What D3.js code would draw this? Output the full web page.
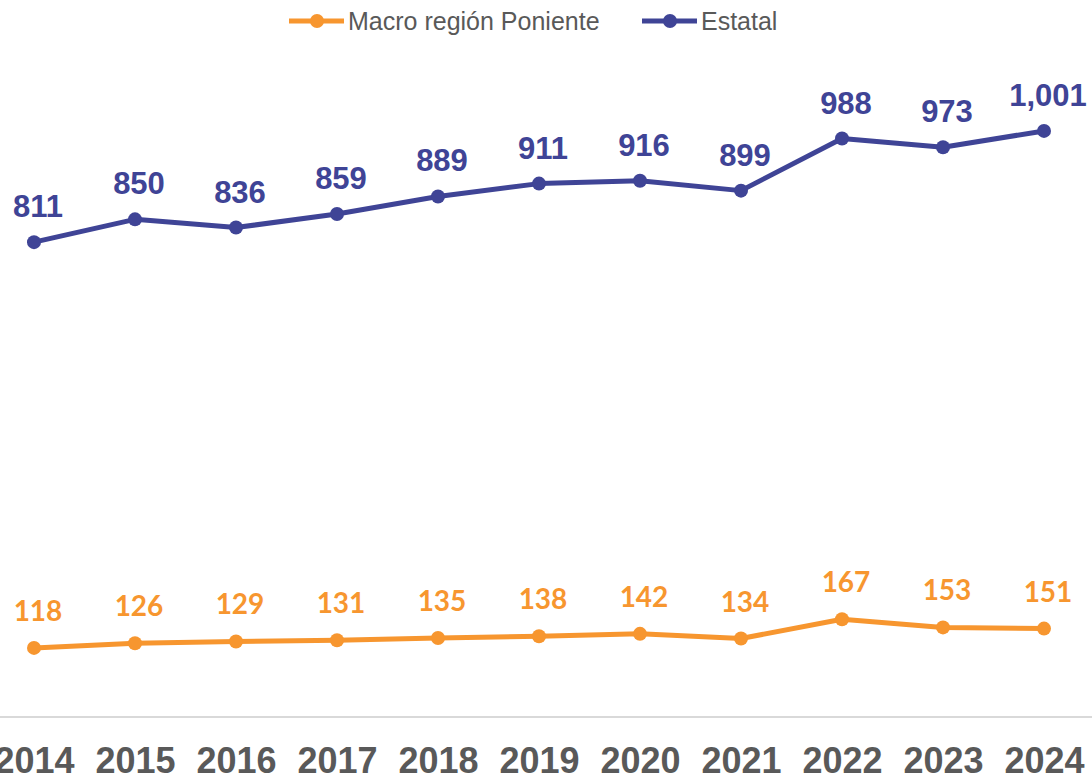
<!DOCTYPE html>
<html>
<head>
<meta charset="utf-8">
<script src="https://cdn.jsdelivr.net/npm/d3@7"></script>
<style>
  body { margin: 0; background: #fff; }
  #chart { width: 1092px; height: 777px; }
</style>
</head>
<body>
<div id="chart"></div>
<script>
const years = ["2014", "2015", "2016", "2017", "2018", "2019", "2020", "2021", "2022", "2023", "2024"];
const poniente = [118, 126, 129, 131, 135, 138, 142, 134, 167, 153, 151];
const estatal = [811, 850, 836, 859, 889, 911, 916, 899, 988, 973, 1001];
const seriesNames = ["Macro región Poniente", "Estatal"];
const seriesColors = ["#F7962F", "#3F4496"];

const width = 1092, height = 777;

const svg = d3.select("#chart")
    .append("svg")
    .attr("width", width)
    .attr("height", height);

// scales
const x = d3.scalePoint().domain(years).range([34, 1044]);
const y = d3.scaleLinear().domain([0, 1200]).range([717, 14.4]);

// baseline axis (no ticks)
svg.append("line")
    .attr("x1", 0).attr("x2", width)
    .attr("y1", y(0)).attr("y2", y(0))
    .attr("stroke", "#d9d9d9")
    .attr("stroke-width", 2);

// year labels
const xAxis = svg.append("g")
    .attr("transform", `translate(0, ${y(0)})`)
    .call(d3.axisBottom(x).tickSize(0).tickPadding(0));
xAxis.select(".domain").remove();
xAxis.selectAll(".tick text")
    .attr("dy", null)
    .attr("y", 56)
    .style("font-family", "'Liberation Sans', Arial, sans-serif")
    .style("font-weight", "bold")
    .style("font-size", "36px")
    .attr("fill", "#595959");

const line = d3.line()
    .x((d, i) => x(years[i]))
    .y(d => y(d));

function drawSeries(values, color, labelFont, labelSize, labelOffset) {
    svg.append("path")
        .datum(values)
        .attr("d", line)
        .attr("fill", "none")
        .attr("stroke", color)
        .attr("stroke-width", 5)
        .attr("stroke-linejoin", "round");

    svg.selectAll(null)
        .data(values)
        .enter().append("circle")
        .attr("cx", (d, i) => x(years[i]))
        .attr("cy", d => y(d))
        .attr("r", 7)
        .attr("fill", color);

    svg.selectAll(null)
        .data(values)
        .enter().append("text")
        .attr("x", (d, i) => x(years[i]) + 4)
        .attr("y", d => y(d) - labelOffset)
        .attr("text-anchor", "middle")
        .style("font-family", labelFont)
        .style("font-weight", "bold")
        .style("font-size", labelSize)
        .attr("fill", color)
        .text(d => d3.format(",")(d));
}

drawSeries(estatal, seriesColors[1], "'Liberation Sans', Arial, sans-serif", "31px", 25);
drawSeries(poniente, seriesColors[0], "Lato, 'Open Sans', sans-serif", "28px", 27);

// legend
const legendItems = [
    { name: seriesNames[0], color: seriesColors[0], x0: 289 },
    { name: seriesNames[1], color: seriesColors[1], x0: 642 }
];
const legend = svg.selectAll(".legend")
    .data(legendItems)
    .enter().append("g")
    .attr("class", "legend")
    .attr("transform", d => `translate(${d.x0}, 21)`);
legend.append("line")
    .attr("x1", 0).attr("x2", 55)
    .attr("stroke", d => d.color)
    .attr("stroke-width", 5);
legend.append("circle")
    .attr("cx", 28)
    .attr("r", 7)
    .attr("fill", d => d.color);
legend.append("text")
    .attr("x", 59)
    .attr("y", 9)
    .style("font-family", "'Liberation Sans', Arial, sans-serif")
    .style("font-size", "25px")
    .attr("fill", "#595959")
    .text(d => d.name);
</script>
</body>
</html>
